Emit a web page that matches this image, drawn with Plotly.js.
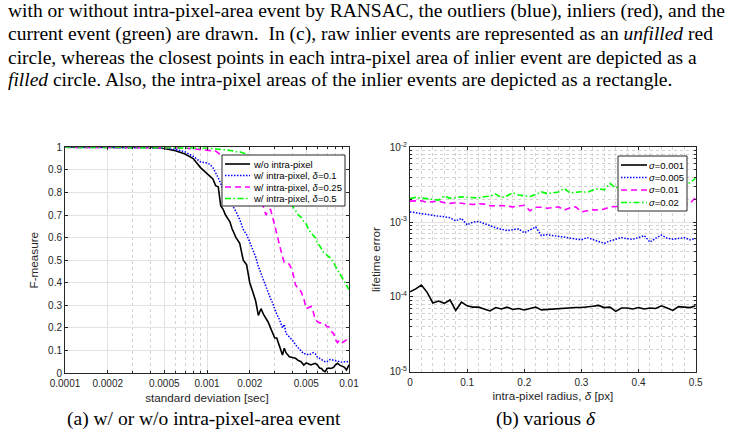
<!DOCTYPE html>
<html><head><meta charset="utf-8">
<script src="https://cdn.plot.ly/plotly-3.0.1.min.js"></script>
<style>html,body{margin:0;padding:0;background:#fff;}#chart{width:747px;height:437px;}</style>
</head><body><div id="chart"></div>
<script>
// ---------- data: (a) F-measure vs standard deviation ----------
const sigma = [0.0001, 0.00015, 0.0002, 0.0003, 0.0004, 0.0005, 0.0006, 0.0007, 0.0008, 0.0009,
  0.001, 0.00105, 0.0011, 0.00115, 0.0012, 0.00125, 0.0013, 0.00135, 0.0014, 0.00145,
  0.0015, 0.0016, 0.0017, 0.0018, 0.0019, 0.002, 0.0021, 0.0022, 0.0023, 0.0024,
  0.0025, 0.0026, 0.0027, 0.0028, 0.0029, 0.003, 0.0031, 0.0032, 0.0033, 0.0034,
  0.0035, 0.0036, 0.0038, 0.004, 0.0042, 0.0044, 0.0046, 0.0048, 0.005, 0.0052,
  0.0054, 0.0056, 0.0058, 0.006, 0.0062, 0.0064, 0.0066, 0.0068, 0.007, 0.0072,
  0.0074, 0.0076, 0.0078, 0.008, 0.0083, 0.0086, 0.009, 0.0093, 0.0096, 0.01];
const fNoIntra = [1, 1, 1, 1, 1, 0.995, 0.985, 0.97, 0.95, 0.91,
  0.885, 0.875, 0.86, 0.83, 0.825, 0.74, 0.725, 0.70, 0.685, 0.67,
  0.64, 0.60, 0.575, 0.50, 0.48, 0.40, 0.36, 0.32, 0.255, 0.285,
  0.26, 0.245, 0.225, 0.20, 0.175, 0.155, 0.155, 0.13, 0.11, 0.08,
  0.11, 0.09, 0.072, 0.07, 0.065, 0.055, 0.05, 0.035, 0.045, 0.04,
  0.036, 0.04, 0.043, 0.035, 0.022, 0.02, 0.01, 0.006, 0.02, 0.022,
  0.02, 0.022, 0.025, 0.035, 0.043, 0.035, 0.03, 0.025, 0.013, 0.036];
const fIntra01 = [1, 1, 1, 1, 1, 0.997, 0.99, 0.98, 0.96, 0.935,
  0.93, 0.925, 0.91, 0.89, 0.865, 0.84, 0.81, 0.80, 0.78, 0.76,
  0.745, 0.715, 0.68, 0.636, 0.613, 0.58, 0.545, 0.515, 0.472, 0.44,
  0.413, 0.385, 0.355, 0.33, 0.31, 0.28, 0.26, 0.245, 0.225, 0.20,
  0.215, 0.175, 0.16, 0.145, 0.125, 0.11, 0.095, 0.085, 0.085, 0.08,
  0.085, 0.09, 0.085, 0.07, 0.065, 0.06, 0.055, 0.05, 0.05, 0.058,
  0.06, 0.058, 0.055, 0.052, 0.05, 0.05, 0.048, 0.05, 0.048, 0.055];
const fIntra025 = [1, 1, 1, 1, 1, 1, 0.999, 0.997, 0.993, 0.99,
  0.988, 0.985, 0.985, 0.983, 0.975, 0.965, 0.955, 0.945, 0.935, 0.925,
  0.91, 0.89, 0.87, 0.85, 0.83, 0.81, 0.79, 0.77, 0.76, 0.755,
  0.735, 0.70, 0.72, 0.725, 0.69, 0.65, 0.62, 0.585, 0.545, 0.515,
  0.49, 0.485, 0.482, 0.45, 0.39, 0.375, 0.36, 0.33, 0.285, 0.29,
  0.295, 0.27, 0.235, 0.228, 0.222, 0.222, 0.22, 0.215, 0.205, 0.205,
  0.195, 0.18, 0.175, 0.15, 0.135, 0.147, 0.135, 0.14, 0.147, 0.16];
const fIntra05 = [1, 1, 1, 1, 1, 1, 1, 1, 1, 0.998,
  0.997, 0.996, 0.995, 0.994, 0.993, 0.992, 0.99, 0.989, 0.988, 0.986,
  0.985, 0.98, 0.98, 0.975, 0.97, 0.96, 0.955, 0.945, 0.935, 0.925,
  0.915, 0.905, 0.89, 0.875, 0.86, 0.85, 0.835, 0.82, 0.80, 0.79,
  0.775, 0.76, 0.75, 0.74, 0.72, 0.70, 0.69, 0.67, 0.66, 0.635,
  0.62, 0.61, 0.60, 0.575, 0.565, 0.55, 0.535, 0.53, 0.52, 0.515,
  0.51, 0.50, 0.49, 0.475, 0.46, 0.44, 0.42, 0.405, 0.395, 0.37];
const namesA = ['w/o intra-pixel', 'w/ intra-pixel, <i>δ</i>=0.1', 'w/ intra-pixel, <i>δ</i>=0.25', 'w/ intra-pixel, <i>δ</i>=0.5'];
const tickValsA = [0.0001, 0.0002, 0.0005, 0.001, 0.002, 0.005, 0.01];
const tickTextA = ['0.0001', '0.0002', '0.0005', '0.001', '0.002', '0.005', '0.01'];
const minorValsA = [0.0003, 0.0004, 0.0006, 0.0007, 0.0008, 0.0009, 0.003, 0.004, 0.006, 0.007, 0.008, 0.009];

// ---------- data: (b) lifetime error vs intra-pixel radius ----------
const delta = [0, 0.01, 0.02, 0.03, 0.04, 0.05, 0.06, 0.07, 0.08, 0.09,
  0.1, 0.11, 0.12, 0.13, 0.14, 0.15, 0.16, 0.17, 0.18, 0.19,
  0.2, 0.21, 0.22, 0.23, 0.24, 0.25, 0.26, 0.27, 0.28, 0.29,
  0.3, 0.31, 0.32, 0.33, 0.34, 0.35, 0.36, 0.37, 0.38, 0.39,
  0.4, 0.41, 0.42, 0.43, 0.44, 0.45, 0.46, 0.47, 0.48, 0.49, 0.5];
const errS0001 = [1.17e-4, 1.28e-4, 1.44e-4, 1.15e-4, 8.3e-5, 8.8e-5, 8.2e-5, 9.1e-5, 6.6e-5, 8.5e-5,
  7.6e-5, 7.3e-5, 7.3e-5, 6.9e-5, 6.5e-5, 7.2e-5, 6.9e-5, 7.3e-5, 6.8e-5, 7.0e-5,
  6.7e-5, 7.0e-5, 7.3e-5, 6.7e-5, 6.8e-5, 6.9e-5, 7.0e-5, 7.0e-5, 7.2e-5, 7.2e-5,
  7.2e-5, 7.3e-5, 7.5e-5, 7.7e-5, 7.2e-5, 7.3e-5, 6.4e-5, 7.1e-5, 7.1e-5, 6.9e-5,
  7.2e-5, 6.9e-5, 7.1e-5, 7.0e-5, 7.6e-5, 7.1e-5, 6.6e-5, 7.4e-5, 7.3e-5, 7.2e-5, 7.6e-5];
const errS0005 = [1.37e-3, 1.33e-3, 1.30e-3, 1.28e-3, 1.24e-3, 1.2e-3, 1.18e-3, 1.14e-3, 1.04e-3, 1.12e-3,
  9.2e-4, 1.0e-3, 1.02e-3, 9.5e-4, 8.8e-4, 8.4e-4, 8.0e-4, 7.7e-4, 7.9e-4, 8.1e-4,
  7.2e-4, 7.8e-4, 8.6e-4, 6.6e-4, 6.8e-4, 6.6e-4, 6.5e-4, 6.3e-4, 6.1e-4, 6.0e-4,
  5.8e-4, 6.2e-4, 5.8e-4, 5.5e-4, 5.2e-4, 5.6e-4, 5.9e-4, 6.2e-4, 6.0e-4, 5.9e-4,
  6.2e-4, 6.6e-4, 5.4e-4, 6.1e-4, 6.7e-4, 6.1e-4, 5.9e-4, 6.1e-4, 6.2e-4, 5.8e-4, 6.0e-4];
const errS001 = [1.91e-3, 1.92e-3, 1.93e-3, 1.84e-3, 1.86e-3, 1.91e-3, 1.82e-3, 1.78e-3, 1.82e-3, 1.80e-3,
  1.74e-3, 1.72e-3, 1.76e-3, 1.74e-3, 1.66e-3, 1.64e-3, 1.67e-3, 1.62e-3, 1.6e-3, 1.64e-3,
  1.68e-3, 1.42e-3, 1.58e-3, 1.58e-3, 1.53e-3, 1.56e-3, 1.6e-3, 1.45e-3, 1.55e-3, 1.6e-3,
  1.37e-3, 1.42e-3, 1.46e-3, 1.45e-3, 1.5e-3, 1.6e-3, 1.6e-3, 1.62e-3, 1.64e-3, 1.65e-3,
  1.66e-3, 1.68e-3, 1.68e-3, 1.7e-3, 1.7e-3, 1.72e-3, 1.72e-3, 1.74e-3, 1.76e-3, 1.78e-3, 2.14e-3];
const errS002 = [2.07e-3, 2.14e-3, 2.10e-3, 2.07e-3, 2.02e-3, 1.97e-3, 2.23e-3, 2.08e-3, 2.12e-3, 2.18e-3,
  2.15e-3, 2.12e-3, 2.10e-3, 2.18e-3, 2.22e-3, 2.37e-3, 2.12e-3, 2.25e-3, 2.47e-3, 2.3e-3,
  2.25e-3, 2.2e-3, 2.35e-3, 2.53e-3, 2.4e-3, 2.45e-3, 2.53e-3, 2.82e-3, 2.45e-3, 2.5e-3,
  2.55e-3, 2.5e-3, 2.68e-3, 2.8e-3, 2.7e-3, 3.3e-3, 2.85e-3, 3.1e-3, 3.0e-3, 3.2e-3,
  3.1e-3, 3.3e-3, 3.2e-3, 3.1e-3, 3.3e-3, 3.2e-3, 3.4e-3, 3.3e-3, 3.2e-3, 3.36e-3, 3.85e-3];
const namesB = ['<i>σ</i>=0.001', '<i>σ</i>=0.005', '<i>σ</i>=0.01', '<i>σ</i>=0.02'];
const tickValsB = [1e-5, 1e-4, 1e-3, 1e-2];
const tickTextB = ['10<sup>-5</sup>', '10<sup>-4</sup>', '10<sup>-3</sup>', '10<sup>-2</sup>'];
const minorValsB = [2e-5, 3e-5, 4e-5, 5e-5, 6e-5, 7e-5, 8e-5, 9e-5, 2e-4, 3e-4, 4e-4, 5e-4, 6e-4, 7e-4, 8e-4, 9e-4, 2e-3, 3e-3, 4e-3, 5e-3, 6e-3, 7e-3, 8e-3, 9e-3];

// ---------- text ----------
const bodyLines = [
  'with or without intra-pixel-area event by RANSAC, the outliers (blue), inliers (red), and the',
  'current event (green) are drawn.  In (c), raw inlier events are represented as an <i>unfilled</i> red',
  'circle, whereas the closest points in each intra-pixel area of inlier event are depicted as a',
  '<i>filled</i> circle. Also, the intra-pixel areas of the inlier events are depicted as a rectangle.'
];
const captionA = '(a) w/ or w/o intra-pixel-area event';
const captionB = '(b) various <i>δ</i>';

// ---------- styling ----------
const W = 747, H = 437;
const SANS = 'Liberation Sans, Arial, Helvetica, sans-serif';
const SERIF = 'Liberation Serif, Times New Roman, serif';
const AX = '#262626';
const styles = [
  {color: '#000000', width: 1.6, dash: 'solid'},
  {color: '#0000ff', width: 1.5, dash: '1.5px,1.5px'},
  {color: '#ff00ff', width: 1.6, dash: '6px,4px'},
  {color: '#00ff00', width: 1.6, dash: '6px,2.5px,1.5px,2.5px'}
];
const px = v => v / W;
const py = v => 1 - v / H;

const seriesA = [fNoIntra, fIntra01, fIntra025, fIntra05];
const seriesB = [errS0001, errS0005, errS001, errS002];
const traces = [];
seriesA.forEach((ys, i) => traces.push({x: sigma, y: ys, xaxis: 'x', yaxis: 'y', mode: 'lines',
  name: namesA[i], showlegend: false, line: styles[i], hoverinfo: 'skip'}));
seriesB.forEach((ys, i) => traces.push({x: delta, y: ys, xaxis: 'x2', yaxis: 'y2', mode: 'lines',
  name: namesB[i], showlegend: false, line: styles[i], hoverinfo: 'skip'}));

const base = {
  showline: true, linecolor: AX, linewidth: 1, mirror: 'ticks',
  ticks: 'inside', ticklen: 3, tickwidth: 1, tickcolor: AX,
  showgrid: true, gridcolor: '#e2e2e2', gridwidth: 1, zeroline: false,
  tickfont: {family: SANS, size: 10, color: AX}, fixedrange: true
};
const minorStyle = {ticks: 'inside', ticklen: 2, tickcolor: AX, showgrid: true, gridcolor: '#d2d2d2', griddash: 'dot', gridwidth: 1};
const titleFont = {family: SANS, size: 11.7, color: AX};

const layout = {
  width: W, height: H, margin: {l: 0, r: 0, t: 0, b: 0},
  paper_bgcolor: '#ffffff', plot_bgcolor: '#ffffff', showlegend: false,
  xaxis: Object.assign({}, base, {type: 'log', range: [-4, -2], domain: [px(65), px(349)], anchor: 'y',
    tickmode: 'array', tickvals: tickValsA, ticktext: tickTextA, ticklabelstandoff: 1,
    minor: Object.assign({tickmode: 'array', tickvals: minorValsA}, minorStyle),
    title: {text: 'standard deviation [sec]', font: titleFont, standoff: 5}}),
  yaxis: Object.assign({}, base, {range: [0, 1], tick0: 0, dtick: 0.1, domain: [py(373), py(147.3)], anchor: 'x',
    title: {text: 'F-measure', font: titleFont, standoff: 6}}),
  xaxis2: Object.assign({}, base, {range: [0, 0.5], tick0: 0, dtick: 0.1, domain: [px(410), px(695.7)], anchor: 'y2',
    ticklabelstandoff: 1,
    minor: Object.assign({dtick: 0.02}, minorStyle, {ticks: ''}),
    title: {text: 'intra-pixel radius, <i>δ</i> [px]', font: titleFont, standoff: 5}}),
  yaxis2: Object.assign({}, base, {type: 'log', range: [-5, -2], domain: [py(371.7), py(147.3)], anchor: 'x2',
    tickmode: 'array', tickvals: tickValsB, ticktext: tickTextB,
    minor: Object.assign({tickmode: 'array', tickvals: minorValsB}, minorStyle),
    title: {text: 'lifetime error', font: titleFont, standoff: 6}}),
  shapes: [], annotations: []
};

// legends (boxed keys inside each panel)
function addLegend(box, rows, sampleX0, sampleX1, textX, names) {
  layout.shapes.push({type: 'rect', xref: 'paper', yref: 'paper', layer: 'above',
    x0: px(box[0]), x1: px(box[1]), y0: py(box[3]), y1: py(box[2]),
    line: {color: AX, width: 1}, fillcolor: '#ffffff'});
  rows.forEach((ry, i) => {
    layout.shapes.push({type: 'line', xref: 'paper', yref: 'paper', layer: 'above',
      x0: px(sampleX0), x1: px(sampleX1), y0: py(ry), y1: py(ry), line: styles[i]});
    layout.annotations.push({xref: 'paper', yref: 'paper', x: px(textX), y: py(ry), xanchor: 'left', yanchor: 'middle',
      showarrow: false, text: names[i], font: {family: SANS, size: 9.5, color: '#000'}});
  });
}
addLegend([222, 345, 155, 206], [164, 175.5, 187, 198.5], 225, 250, 251, namesA);
addLegend([618, 687, 156, 211], [165, 177.5, 190, 202.5], 621, 647, 647, namesB);

// body text and captions
const SERIF_SIZE = 19.5;
[11, 34, 57, 80].forEach((y, i) => layout.annotations.push({xref: 'paper', yref: 'paper', x: px(6), y: py(y),
  xanchor: 'left', yanchor: 'middle', showarrow: false, text: bodyLines[i],
  font: {family: SERIF, size: SERIF_SIZE, color: '#000'}}));
layout.annotations.push({xref: 'paper', yref: 'paper', x: px(204), y: py(419), xanchor: 'center', yanchor: 'middle',
  showarrow: false, text: captionA, font: {family: SERIF, size: SERIF_SIZE, color: '#000'}});
layout.annotations.push({xref: 'paper', yref: 'paper', x: px(546), y: py(419), xanchor: 'center', yanchor: 'middle',
  showarrow: false, text: captionB, font: {family: SERIF, size: SERIF_SIZE, color: '#000'}});

Plotly.newPlot('chart', traces, layout, {staticPlot: true, displayModeBar: false});
</script></body></html>
